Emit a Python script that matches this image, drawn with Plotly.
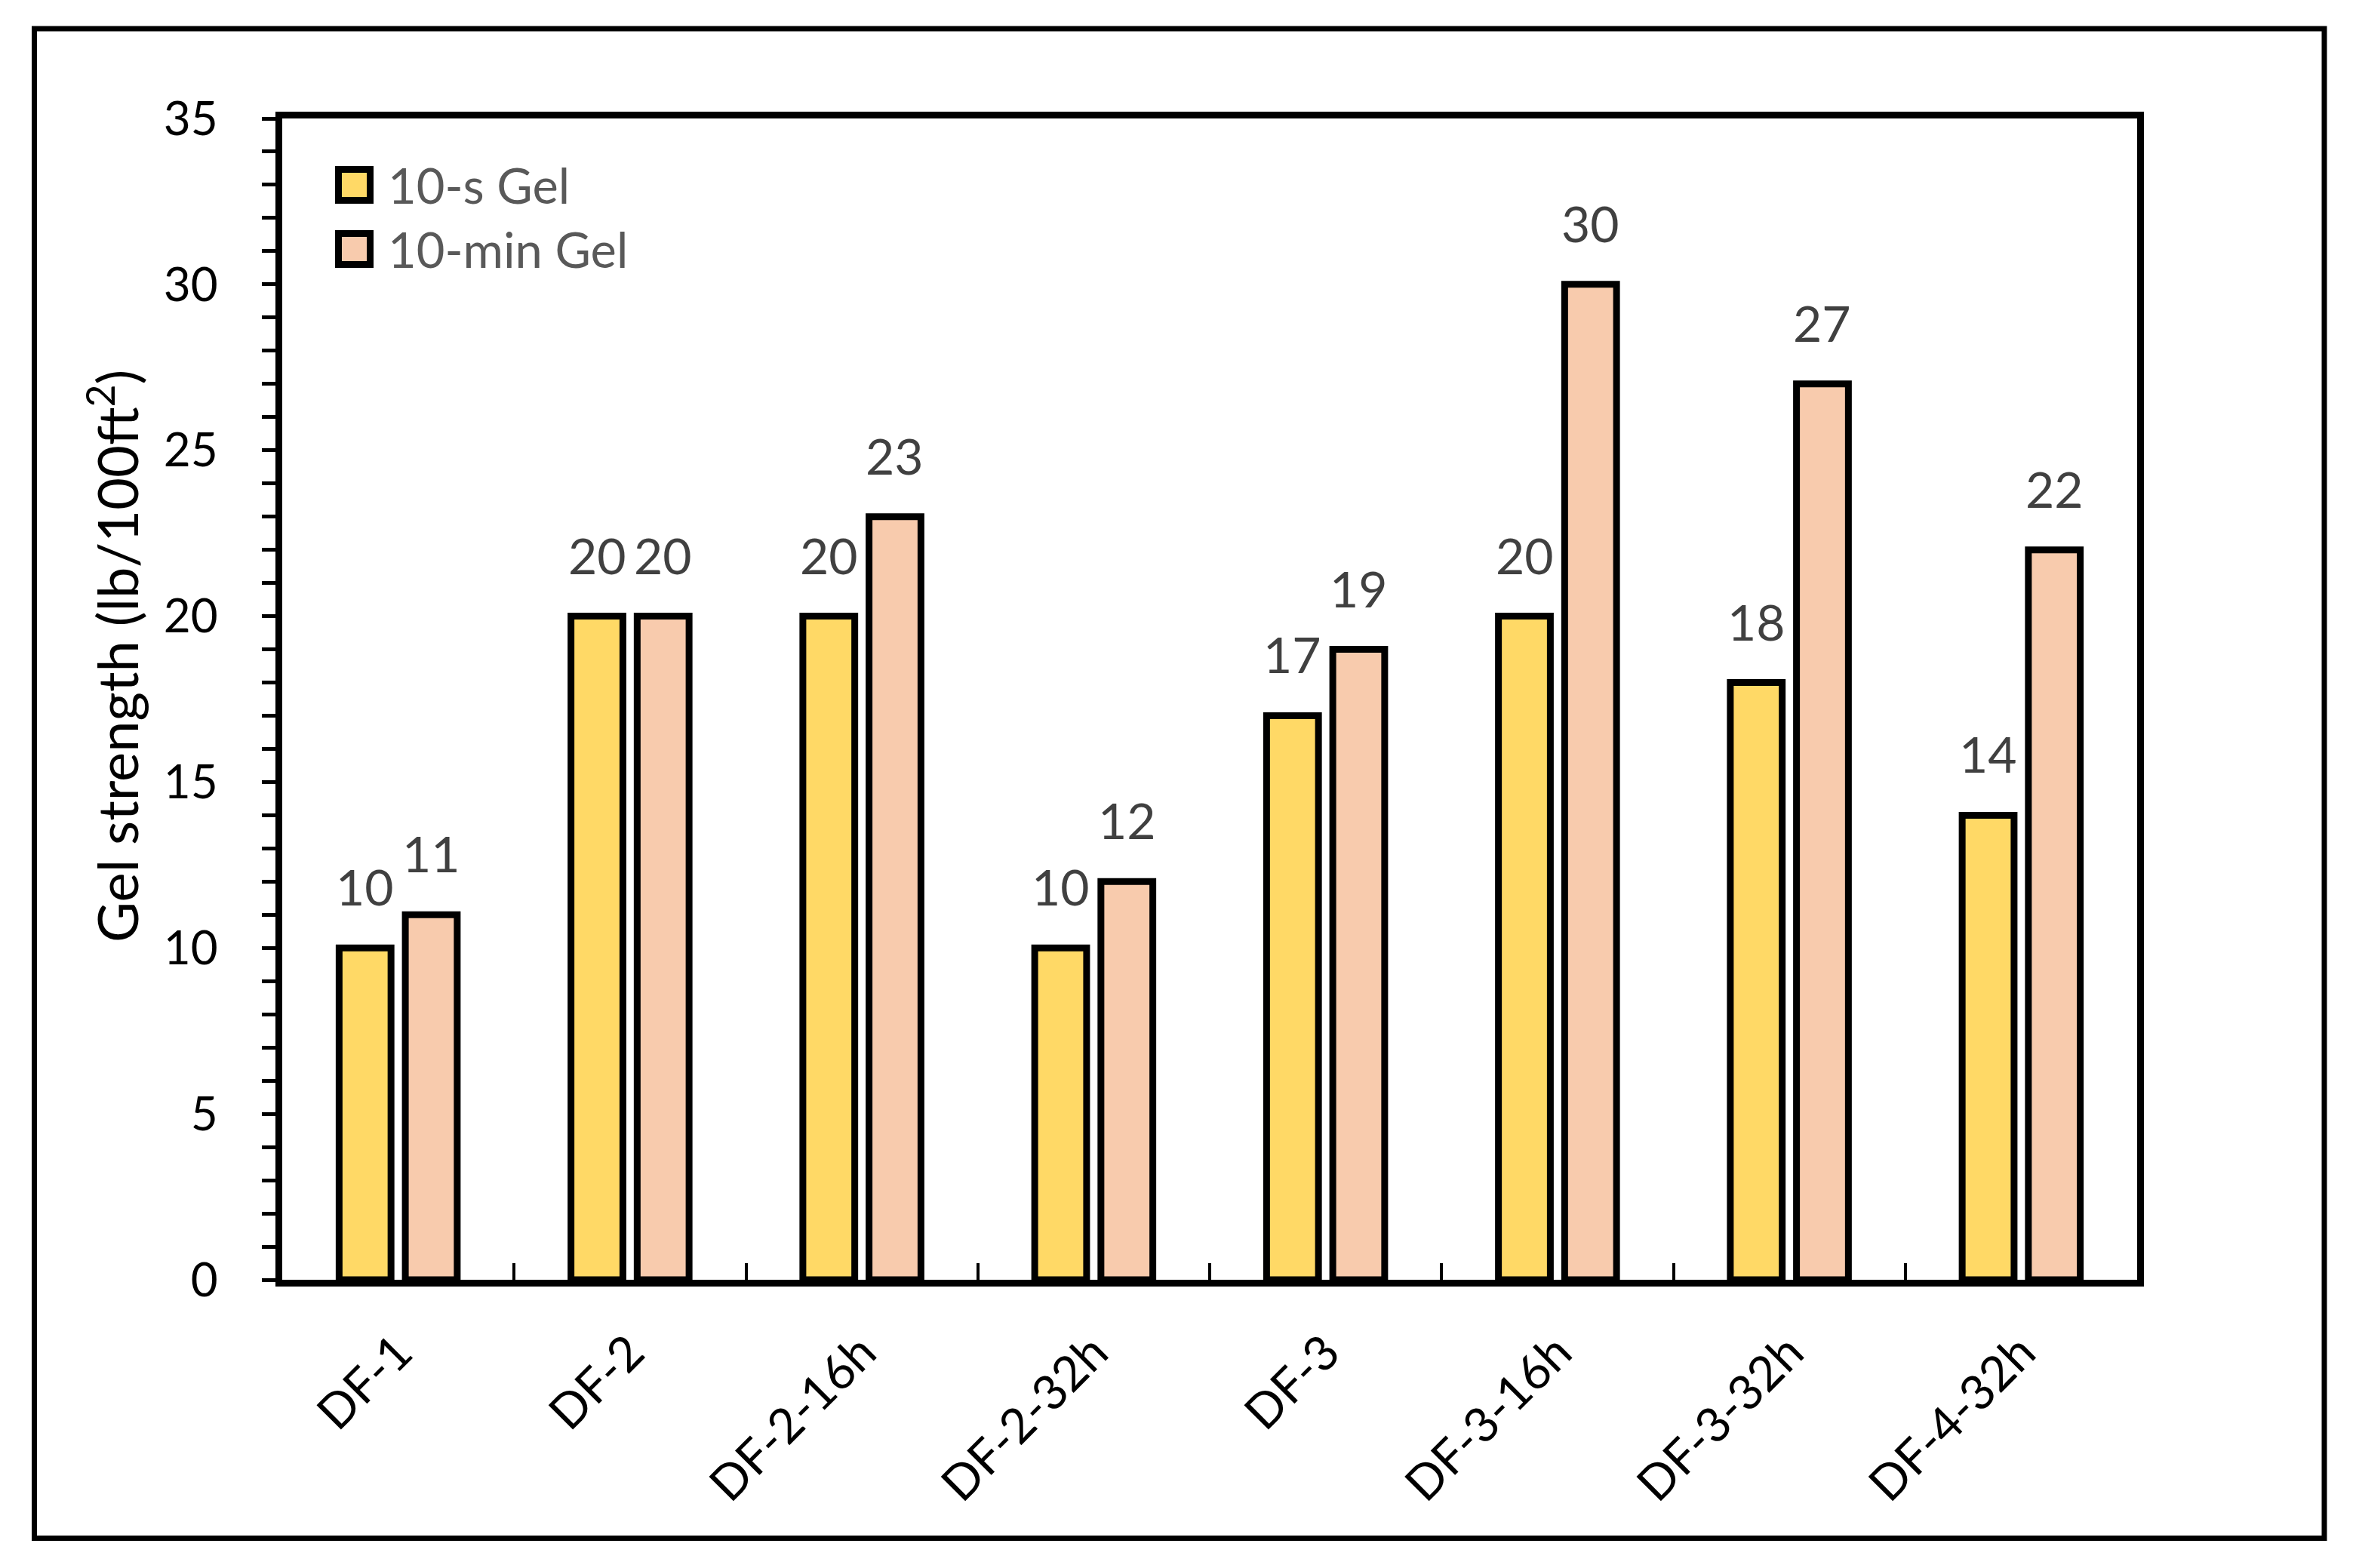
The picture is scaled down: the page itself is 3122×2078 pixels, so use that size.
import plotly.graph_objects as go

# ---------------- data ----------------
categories = ["DF-1", "DF-2", "DF-2-16h", "DF-2-32h", "DF-3", "DF-3-16h", "DF-3-32h", "DF-4-32h"]
gel_10s = [10, 20, 20, 10, 17, 20, 18, 14]
gel_10min = [11, 20, 23, 12, 19, 30, 27, 22]
series_names = ["10-s Gel", "10-min Gel"]
series_colors = ["#FFD966", "#F8CBAD"]
y_title = "Gel strength (lb/100ft<sup>2</sup>)"

# ---------------- layout constants ----------------
PAGE_OFF = 8                      # default body margin of the html page
W_FIG, H_FIG = 3122 - 2 * PAGE_OFF, 2078 - 2 * PAGE_OFF
L, R, T, B = 366, 282, 149, 374
PW, PH = W_FIG - L - R, H_FIG - T - B
FONT = "Lato"
BARGAP = 0.429
BARGROUPGAP = 0.216

def px_x(px):
    """screen pixel -> paper x"""
    return (px - PAGE_OFF - L) / PW

def px_y(py):
    """screen pixel -> paper y"""
    return 1 - (py - PAGE_OFF - T) / PH

fig = go.Figure()
for name, vals, col in zip(series_names, [gel_10s, gel_10min], series_colors):
    fig.add_trace(go.Bar(
        x=categories, y=vals, name=name,
        marker=dict(color=col, line=dict(color="black", width=9)),
        showlegend=False, hoverinfo="x+y",
    ))

# data labels above bars (offset within group derived from bar gap settings)
slot = (1 - BARGAP) / 2
offsets = [-slot / 2, slot / 2]
annotations = []
for off, vals in zip(offsets, [gel_10s, gel_10min]):
    for i, v in enumerate(vals):
        annotations.append(dict(
            x=i + off, y=v, xref="x", yref="y", text=str(v),
            showarrow=False, yanchor="bottom", xanchor="center", yshift=40,
            font=dict(family=FONT, size=66, color="#404040"),
        ))

# y axis title
annotations.append(dict(
    x=px_x(150), y=px_y(870), xref="paper", yref="paper", text=y_title,
    textangle=-90, showarrow=False, xanchor="center", yanchor="middle",
    font=dict(family=FONT, size=74, color="black"),
))

# legend (custom, inside plot, top-left)
shapes = []
legend_rows = [245, 330]
for (name, col), cy in zip(zip(series_names, series_colors), legend_rows):
    shapes.append(dict(
        type="rect", xref="paper", yref="paper",
        x0=px_x(448.5), x1=px_x(490.5), y0=px_y(cy + 20.5), y1=px_y(cy - 20.5),
        fillcolor=col, line=dict(color="black", width=9),
    ))
    annotations.append(dict(
        x=px_x(512), y=px_y(cy), xref="paper", yref="paper", text=name,
        showarrow=False, xanchor="left", yanchor="middle",
        font=dict(family=FONT, size=65, color="#595959"),
    ))

# outer figure border
shapes.append(dict(
    type="rect", xref="paper", yref="paper",
    x0=px_x(45.5), x1=px_x(3080), y0=px_y(2038.5), y1=px_y(38),
    line=dict(color="black", width=7), fillcolor="rgba(0,0,0,0)", layer="below",
))

fig.update_layout(
    width=W_FIG, height=H_FIG,
    margin=dict(l=L, r=R, t=T, b=B, autoexpand=False),
    paper_bgcolor="white", plot_bgcolor="white",
    barmode="group", bargap=BARGAP, bargroupgap=BARGROUPGAP,
    font=dict(family=FONT, color="black"),
    annotations=annotations, shapes=shapes,
    xaxis=dict(
        type="category", showline=True, linecolor="black", linewidth=9, mirror=True,
        ticks="inside", tickson="boundaries", ticklen=22, tickwidth=4, tickcolor="black",
        tickangle=-45, tickfont=dict(family=FONT, size=64, color="black"),
        ticklabelstandoff=24, showgrid=False, zeroline=False, automargin=False,
    ),
    yaxis=dict(
        range=[0, 35], dtick=5, tick0=0, showline=True, linecolor="black", linewidth=9, mirror=True,
        ticks="outside", ticklen=18, tickwidth=5, tickcolor="black",
        minor=dict(dtick=1, ticks="outside", ticklen=18, tickwidth=5, tickcolor="black"),
        tickfont=dict(family=FONT, size=62, color="black"),
        ticklabelstandoff=46, showgrid=False, zeroline=False, automargin=False,
    ),
    yaxis2=dict(
        overlaying="y", matches="y", anchor="x", side="left",
        ticks="inside", ticklen=22, tickwidth=5, tickcolor="black", dtick=5, tick0=0,
        showticklabels=False, showline=False, showgrid=False, zeroline=False,
    ),
)

fig.write_html("out.html")
